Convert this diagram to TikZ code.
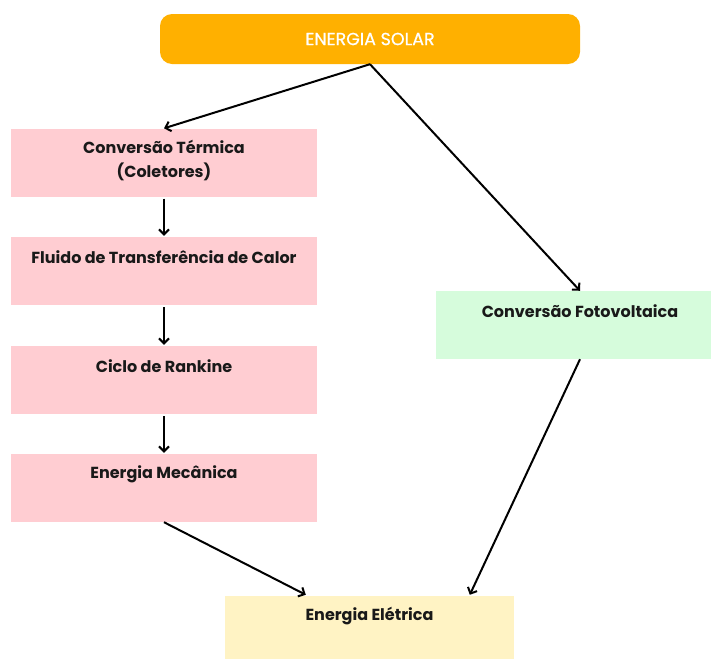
\documentclass[tikz,border=0pt]{standalone}
\usepackage{fontspec}
\setmainfont{Poppins}
\newfontfamily\solarfont[FakeBold=0.6]{Poppins}
\usetikzlibrary{arrows.meta}
\definecolor{solar}{HTML}{FFB000}
\definecolor{pinkbox}{HTML}{FFCDD2}
\definecolor{greenbox}{HTML}{D6FCDC}
\definecolor{yellowbox}{HTML}{FFF3C4}
\tikzset{
  box/.style={draw=none, inner sep=0pt, minimum width=306pt, minimum height=68pt, fill=pinkbox},
  boxtext/.style={font=\bfseries\fontsize{16}{24}\selectfont, text=black!90, align=center, anchor=center, inner sep=0pt},
  arr/.style={-{Straight Barb[length=5pt,width=10pt,line width=2pt]}, line width=2pt, black}
}
\begin{document}
\begin{tikzpicture}[x=1pt,y=-1pt]
\clip (0,0) rectangle (711,659);
\fill[white] (0,0) rectangle (711,659);
% top
\node[fill=solar, rounded corners=12pt, minimum width=420pt, minimum height=50pt, inner sep=0pt,
      text=white, font=\solarfont\fontsize{17.5}{20}\selectfont] (solar) at (370,39) {ENERGIA SOLAR};
% left column
\node[box] (term) at (164,162.5) {};
\node[boxtext] (termt) at (164,160) {Conversão Térmica\\(Coletores)};
\node[box] (fluid) at (164,271) {};
\node[boxtext] (fluidt) at (164,257) {Fluido de Transferência de Calor};
\node[box] (rank) at (164,380) {};
\node[boxtext] (rankt) at (164,366) {Ciclo de Rankine};
\node[box] (mec) at (164,488) {};
\node[boxtext] (mect) at (164,474) {Energia Mecânica};
% right
\node[box, fill=greenbox, minimum width=288pt] (pv) at (580,325) {};
\node[boxtext] (pvt) at (580,311) {Conversão Fotovoltaica};
% bottom
\node[box, fill=yellowbox, minimum width=289pt, minimum height=63pt] (elec) at (369.5,627.5) {};
\node[boxtext] (elect) at (369.5,616) {Energia Elétrica};
% arrows
\draw[arr] (solar.south) -- (term.north);
\draw[arr] (solar.south) -- (pv.north);
\draw[arr] ([yshift=-2pt]term.south) -- ([yshift=1pt]fluid.north);
\draw[arr] ([yshift=-2pt]fluid.south) -- ([yshift=1pt]rank.north);
\draw[arr] ([yshift=-2pt]rank.south) -- ([yshift=1pt]mec.north);
\draw[arr] (mec.south) -- ([xshift=81pt,yshift=1pt]elec.north west);
\draw[arr] (pv.south) -- ([xshift=245pt,yshift=1pt]elec.north west);
\end{tikzpicture}
\end{document}
